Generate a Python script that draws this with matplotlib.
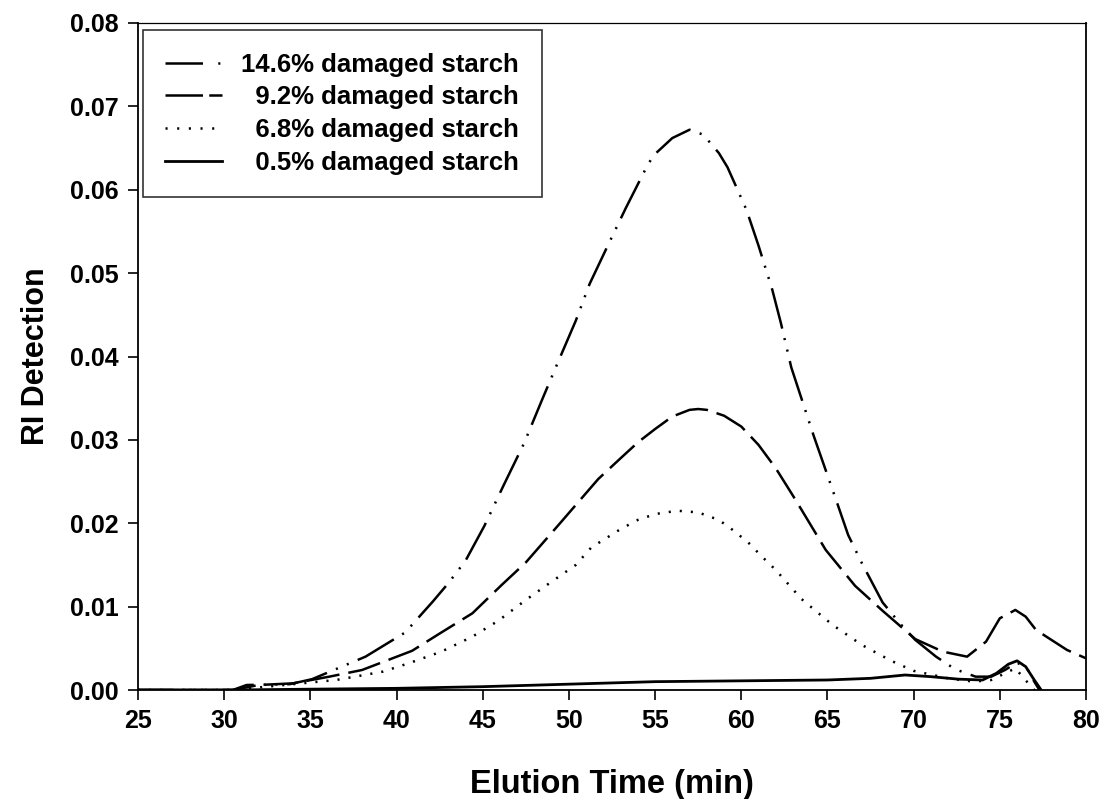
import numpy as np
import matplotlib
matplotlib.use('Agg')
import matplotlib.pyplot as plt
from matplotlib.ticker import FormatStrFormatter

# ------------------------------------------------------------
#   data (elution time, RI signal)
# ------------------------------------------------------------
t146 = [25, 30.5, 31.3, 33.8, 35.1, 38.2, 40.5, 42.1, 43.0, 44.0, 45.1, 46.2, 47.4,
        48.4, 49.3, 50.4, 51.2, 52.3, 53.3, 54.5, 54.9, 56.0, 57.0, 57.8, 58.7, 59.2,
        60.3, 61.0, 61.8, 62.3, 62.9, 64.2, 65.5, 66.2, 67.0, 68.2, 69.2, 70.1, 71.3,
        72.4, 73.6, 74.5, 75.3, 76.0, 76.6, 77.0, 77.3]
v146 = [0, 0, 0.0006, 0.0007, 0.0013, 0.0040, 0.0069, 0.0106, 0.0128, 0.0155, 0.0197,
        0.0245, 0.0296, 0.0346, 0.0390, 0.0443, 0.0487, 0.0535, 0.0578, 0.0627, 0.0641,
        0.0662, 0.0672, 0.0666, 0.0644, 0.0627, 0.0576, 0.0533, 0.0480, 0.0440, 0.0387,
        0.0305, 0.0228, 0.0186, 0.0152, 0.0105, 0.0080, 0.0060, 0.0040, 0.0025, 0.0016,
        0.0016, 0.0024, 0.0033, 0.0025, 0.0010, 0.0]

t92 = [25, 30.5, 32.0, 34.0, 36.1, 38.0, 40.9, 42.6, 44.4, 46.1, 47.5, 49.4, 51.7,
       53.0, 54.0, 55.0, 56.0, 57.0, 57.5, 58.0, 59.0, 60.0, 61.0, 62.0, 63.0, 63.5,
       64.9, 66.6, 68.2, 70.1, 71.7, 73.1, 74.2, 75.0, 75.9, 76.5, 77.1, 78.9, 80.0]
v92 = [0, 0, 0.0006, 0.0008, 0.0016, 0.0024, 0.0047, 0.0069, 0.0092, 0.0126, 0.0153,
       0.0198, 0.0253, 0.0278, 0.0297, 0.0313, 0.0328, 0.0336, 0.0337, 0.0336, 0.0329,
       0.0316, 0.0294, 0.0266, 0.0233, 0.0216, 0.0168, 0.0125, 0.0095, 0.0061, 0.0046,
       0.0040, 0.0058, 0.0086, 0.0096, 0.0088, 0.0072, 0.0048, 0.0038]

t68 = [25, 30.5, 33.0, 36.5, 39.2, 40.7, 42.6, 44.4, 45.9, 47.5, 49.0, 50.4, 51.3,
       52.0, 53.0, 54.0, 55.0, 56.3, 57.5, 58.7, 59.5, 60.4, 61.2, 62.0, 63.5, 65.3,
       67.0, 68.7, 70.0, 72.0, 73.5, 74.5, 75.3, 75.9, 76.4, 77.0]
v68 = [0, 0, 0.0005, 0.0012, 0.0022, 0.0032, 0.0046, 0.0064, 0.0083, 0.0108, 0.0130,
       0.0150, 0.0171, 0.0180, 0.0193, 0.0204, 0.0211, 0.0215, 0.0213, 0.0204, 0.0192,
       0.0177, 0.0160, 0.0144, 0.0109, 0.0078, 0.0054, 0.0035, 0.0023, 0.0014, 0.0010,
       0.0012, 0.0020, 0.0026, 0.0014, 0.0]

t05 = [25, 30.5, 35, 40, 45, 50, 55, 60, 65, 67.5, 69.5, 71.0, 72.6, 74.0, 74.8,
       75.5, 76.0, 76.5, 77.0, 77.4]
v05 = [0, 0, 0.0001, 0.0002, 0.0004, 0.0007, 0.0010, 0.0011, 0.0012, 0.0014, 0.0018,
       0.0016, 0.0013, 0.0012, 0.0020, 0.0031, 0.0035, 0.0028, 0.0012, 0.0]

# labels right-aligned in the legend (figure space pads the shorter ones)
labels = ['14.6% damaged starch', '\u20079.2% damaged starch',
          '\u20076.8% damaged starch', '\u20070.5% damaged starch']

plt.rcParams['font.family'] = ['Liberation Sans', 'DejaVu Sans']
plt.rcParams['font.weight'] = 'bold'
plt.rcParams['lines.scale_dashes'] = False

fig = plt.figure(figsize=(11.09, 7.99), dpi=100)
ax = fig.add_axes([138/1109., 109/799., 948/1109., 667/799.])

lw = 1.8
ax.plot(t146, v146, color='k', lw=lw, dashes=(30, 7, 1.5, 7, 1.5, 7), label=labels[0])
ax.plot(t92, v92, color='k', lw=lw, dashes=(24, 6.5), label=labels[1])
ax.plot(t68, v68, color='k', lw=lw, dashes=(1.5, 6.5), label=labels[2])
ax.plot(t05, v05, color='k', lw=2.0, label=labels[3])

ax.set_xlim(25, 80)
ax.set_ylim(0, 0.08)
ax.set_xticks(np.arange(25, 81, 5))
ax.set_yticks(np.arange(0, 0.081, 0.01))
ax.yaxis.set_major_formatter(FormatStrFormatter('%.2f'))
ax.tick_params(direction='out', length=7, width=1.2, labelsize=18)
ax.tick_params(axis='x', pad=7)
ax.tick_params(axis='y', pad=7)
for lab in ax.get_xticklabels() + ax.get_yticklabels():
    lab.set_fontweight('bold')
for sp in ax.spines.values():
    sp.set_linewidth(1.3)
ax.spines['top'].set_linewidth(0.9)

ax.set_xlabel('Elution Time (min)', fontsize=23.5, fontweight='bold')
ax.set_ylabel('RI Detection', fontsize=22, fontweight='bold')
ax.xaxis.set_label_coords(0.5, -0.118)
ax.yaxis.set_label_coords(-0.092, 0.5)

leg = ax.legend(loc='upper left', bbox_to_anchor=(0.005, 0.9895), borderaxespad=0,
                fontsize=18.5, frameon=True, fancybox=False, edgecolor='k',
                handlelength=2.2, handletextpad=0.75, borderpad=0.88,
                labelspacing=0.34)
leg.get_frame().set_linewidth(1.2)
for txt in leg.get_texts():
    txt.set_fontweight('bold')
# the key samples in the legend are shorter than the curve patterns
legdash = [(27, 11, 1.5, 20), (27, 4.5), (1.5, 6.9), None]
for ln, d in zip(leg.get_lines(), legdash):
    if d is not None:
        ln.set_dashes(d)

fig.savefig('out.png', dpi=100)
